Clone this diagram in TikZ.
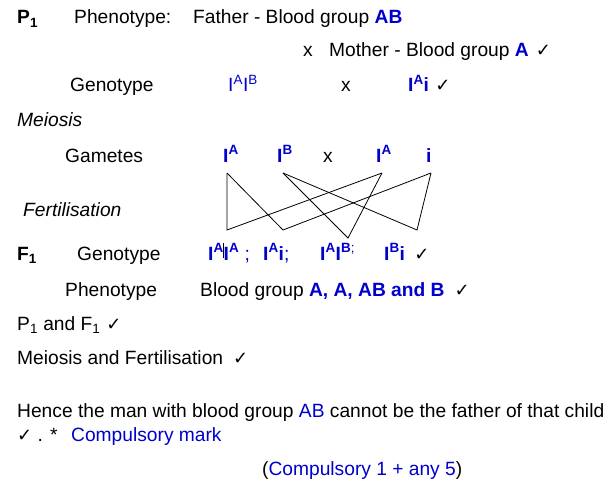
\documentclass[tikz,border=0pt]{standalone}
\usepackage{fontspec}
\setmainfont{Liberation Sans}
\newfontfamily\symfont{DejaVu Sans}
\usepackage{xcolor}
\usetikzlibrary{positioning}
\definecolor{ansblue}{RGB}{0, 0, 204}
\newcommand{\tick}{{\symfont\fontsize{18}{18}\selectfont ✓}}
\newcommand{\allele}[1]{I\textsuperscript{#1}}

\begin{document}
\begin{tikzpicture}[
    x=1pt, y=-1pt,
    txt/.style   = {anchor=base west, inner sep=0pt, font=\fontsize{19.2}{22}\selectfont},
    head/.style  = {txt, font=\fontsize{19.2}{22}\selectfont\bfseries},
    stage/.style = {txt, font=\fontsize{19.2}{22}\selectfont\itshape},
    gene/.style  = {txt, text=ansblue, font=\fontsize{19.2}{22}\selectfont\bfseries},
    cross/.style = {line width=0.8pt, line join=miter},
  ]
  \useasboundingbox (0,0) rectangle (612,489);

  % parents
  \node[head] (p1) at (17,24) {P\textsubscript{1}};
  \node[txt] (phen1) at (74,24) {Phenotype:};
  \node[txt] (father) at (193,24) {Father - Blood group \textcolor{ansblue}{\bfseries AB}};
  \node[txt] (x1) at (303,57) {x};
  \node[txt] (mother) at (329,57) {Mother - Blood group \textcolor{ansblue}{\bfseries A}\hspace{7pt}\tick};
  \node[txt] (geno1) at (70,92) {Genotype};
  \node[txt, text=ansblue] (gfather) at (228,92) {\allele{A}\allele{B}};
  \node[txt] (x2) at (341,92) {x};
  \node[gene] (gmother) at (408,92) {\allele{A}i};
  \node[right=6pt of gmother.base east, anchor=base west, inner sep=0pt] (t1) {\tick};

  % gametes
  \node[stage] (meiosis) at (17,127) {Meiosis};
  \node[txt] (gametes) at (65,162) {Gametes};
  \node[gene] (mgA) at (223,162) {\allele{A}};
  \node[gene] (mgB) at (277,162) {\allele{B}};
  \node[txt] (x3) at (323,162) {x};
  \node[gene] (fgA) at (376,162) {\allele{A}};
  \node[gene] (fgi) at (426,162) {i};
  \node[stage] (fert) at (23,216) {Fertilisation};

  \coordinate (mA) at (227,173);
  \coordinate (mB) at (283,173);
  \coordinate (fA) at (382,173);
  \coordinate (fi) at (431,173);
  \coordinate (oAA) at (227,230);
  \coordinate (oAi) at (283,230);
  \coordinate (oAB) at (348,238);
  \coordinate (oBi) at (417,230);
  \draw[cross] (mA) -- (oAA) -- (fA);
  \draw[cross] (mA) -- (oAi) -- (fi);
  \draw[cross] (mB) -- (oAB) -- (fA);
  \draw[cross] (mB) -- (oBi) -- (fi);

  % offspring
  \node[head] (f1) at (17,260) {F\textsubscript{1}};
  \node[txt] (geno2) at (77,260) {Genotype};
  \node[gene] (kAA) at (208,260) {\allele{A}\allele{A}\mdseries\ ;};
  \node[gene] (kAi) at (263,260) {\allele{A}i\mdseries;};
  \node[gene] (kAB) at (320,260) {\allele{A}I\textsuperscript{B\mdseries;}};
  \node[gene] (kBi) at (384,260) {\allele{B}i};
  \node[right=9pt of kBi.base east, anchor=base west, inner sep=0pt] (t2) {\tick};
  \coordinate (s1) at (223,243);
  \coordinate (s2) at (223,258);
  \draw[line width=0.7pt] (s1) -- (s2);
  \node[txt] (phen2) at (65,296) {Phenotype};
  \node[txt] (blood) at (200,296) {Blood group \textcolor{ansblue}{\bfseries A, A, AB and B}\hspace{10pt}\tick};

  % marks
  \node[txt] (pf) at (17,330) {P\textsubscript{1} and F\textsubscript{1}\hspace{6pt}\tick};
  \node[txt] (mf) at (17,364) {Meiosis and Fertilisation\hspace{10pt}\tick};
  \node[txt] (hence) at (17,417) {Hence the man with blood group \textcolor{ansblue}{AB} cannot be the father of that child};
  \node[txt] (star) at (17,441) {\tick\ . *};
  \node[txt, text=ansblue] (comp) at (71,441) {Compulsory mark};
  \node[txt] (total) at (262,475) {(\textcolor{ansblue}{Compulsory 1 + any 5})};
\end{tikzpicture}
\end{document}
